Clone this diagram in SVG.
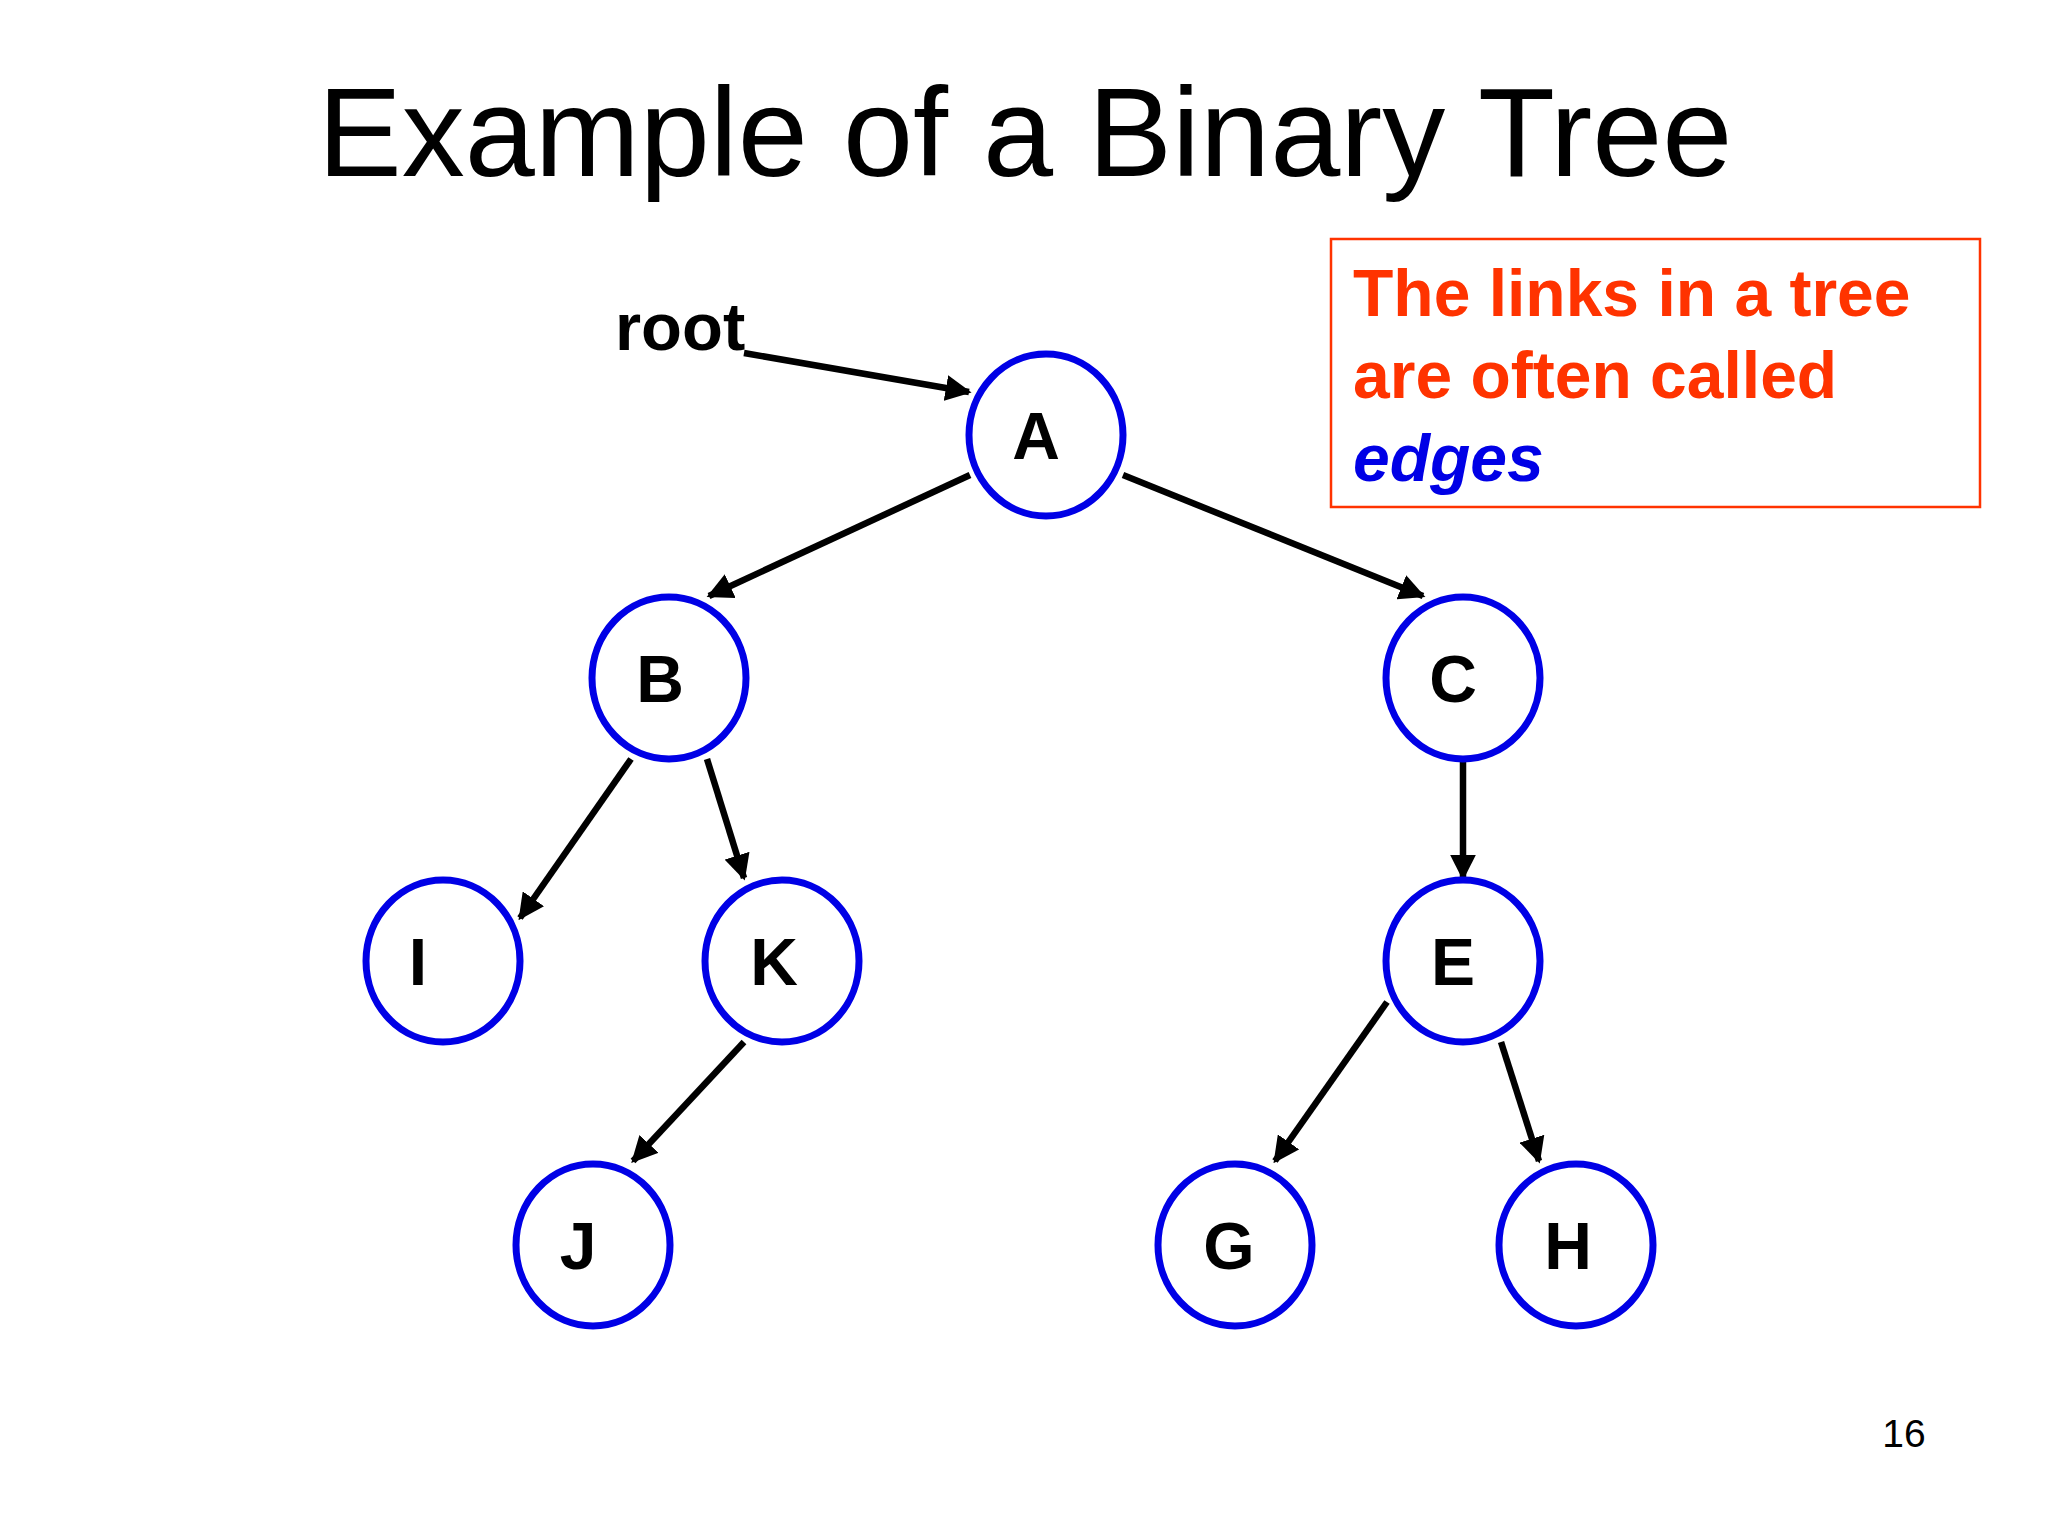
<svg xmlns="http://www.w3.org/2000/svg" width="2048" height="1536" viewBox="0 0 2048 1536">
<style>
.n{fill:#fff;stroke:#0000e6;stroke-width:7}
.l{font-family:"Liberation Sans",Arial,sans-serif;font-weight:bold;font-size:66px;fill:#000;text-anchor:middle}
.e{stroke:#000;stroke-width:6.5;marker-end:url(#ah)}
.r{font-family:"Liberation Sans",Arial,sans-serif;font-weight:bold;font-size:66px;fill:#ff3300}
</style>
<defs><marker id="ah" viewBox="0 0 10 10" refX="9" refY="5" markerWidth="4" markerHeight="4" orient="auto" markerUnits="strokeWidth"><path d="M0,0L10,5L0,10z" fill="#000"/></marker></defs>
<rect width="2048" height="1536" fill="#fff"/>
<text x="1025" y="176" font-family="'Liberation Sans',Arial,sans-serif" font-size="126" text-anchor="middle">Example of a Binary Tree</text>
<g id="box"><rect x="1331" y="239" width="649" height="268" fill="none" stroke="#ff3300" stroke-width="2.5"/>
<text class="r" x="1353" y="316">The links in a tree</text>
<text class="r" x="1353" y="398">are often called</text>
<text class="r" x="1353" y="481" font-style="italic" style="fill:#0000e6">edges</text></g>
<g id="root"><text x="615" y="350" font-family="'Liberation Sans',Arial,sans-serif" font-weight="bold" font-size="67">root</text></g>
<g id="connectors">
<line class="e" x1="744" y1="353" x2="969" y2="392"/>
<line class="e" x1="970" y1="475" x2="709" y2="596"/>
<line class="e" x1="1123" y1="475" x2="1423" y2="596"/>
<line class="e" x1="631" y1="759" x2="520" y2="918"/>
<line class="e" x1="707" y1="759" x2="744" y2="878"/>
<line class="e" x1="1463" y1="759" x2="1463" y2="878"/>
<line class="e" x1="744" y1="1042" x2="633" y2="1161"/>
<line class="e" x1="1387" y1="1002" x2="1275" y2="1161"/>
<line class="e" x1="1501" y1="1042" x2="1539" y2="1161"/>
</g>
<g id="A"><ellipse class="n" cx="1046" cy="435" rx="77" ry="81"/><text class="l" x="1036" y="459">A</text></g>
<g id="B"><ellipse class="n" cx="669" cy="678" rx="77" ry="81"/><text class="l" x="660" y="702">B</text></g>
<g id="C"><ellipse class="n" cx="1463" cy="678" rx="77" ry="81"/><text class="l" x="1453" y="702">C</text></g>
<g id="I"><ellipse class="n" cx="443" cy="961" rx="77" ry="81"/><text class="l" x="418" y="985">I</text></g>
<g id="K"><ellipse class="n" cx="782" cy="961" rx="77" ry="81"/><text class="l" x="774" y="985">K</text></g>
<g id="E"><ellipse class="n" cx="1463" cy="961" rx="77" ry="81"/><text class="l" x="1453" y="985">E</text></g>
<g id="J"><ellipse class="n" cx="593" cy="1245" rx="77" ry="81"/><text class="l" x="578" y="1269">J</text></g>
<g id="G"><ellipse class="n" cx="1235" cy="1245" rx="77" ry="81"/><text class="l" x="1229" y="1269">G</text></g>
<g id="H"><ellipse class="n" cx="1576" cy="1245" rx="77" ry="81"/><text class="l" x="1568" y="1269">H</text></g>
<text x="1904" y="1447" font-family="'Liberation Sans',Arial,sans-serif" font-size="39" text-anchor="middle">16</text>
</svg>
